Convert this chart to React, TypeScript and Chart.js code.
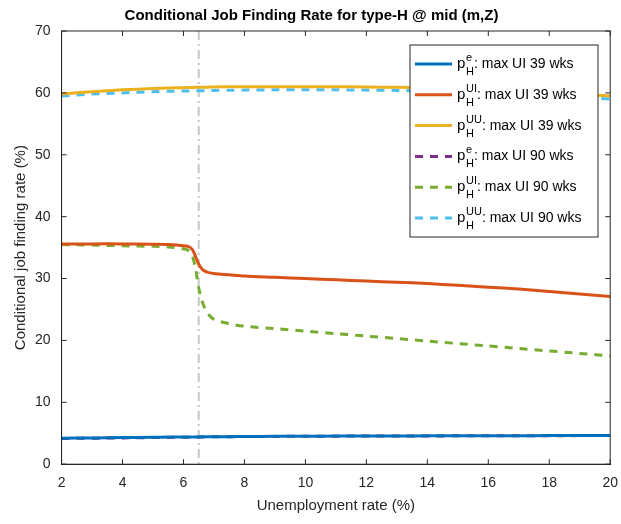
import { useEffect, useRef } from 'react'
import { Chart, registerables } from 'chart.js'

Chart.register(...registerables)

const xs = [2, 3, 4, 5, 5.5, 6, 6.2, 6.3, 6.4, 6.5, 6.6, 6.7, 6.8, 7, 7.5, 8, 9, 10, 11, 12, 13, 14, 15, 16, 17, 18, 19, 20]
const pe39 = [4.2, 4.25, 4.3, 4.35, 4.38, 4.4, 4.4, 4.4, 4.41, 4.41, 4.42, 4.42, 4.42, 4.43, 4.45, 4.47, 4.5, 4.52, 4.54, 4.56, 4.57, 4.58, 4.59, 4.6, 4.61, 4.62, 4.63, 4.64]
const pe90 = [4.15, 4.2, 4.25, 4.3, 4.33, 4.35, 4.36, 4.37, 4.38, 4.39, 4.4, 4.4, 4.41, 4.42, 4.44, 4.46, 4.49, 4.51, 4.53, 4.55, 4.56, 4.57, 4.58, 4.59, 4.6, 4.61, 4.62, 4.63]
const ui39 = [35.6, 35.6, 35.6, 35.55, 35.5, 35.3, 35.1, 34.6, 33.5, 32.3, 31.6, 31.2, 31.0, 30.8, 30.6, 30.4, 30.2, 30.0, 29.8, 29.6, 29.4, 29.2, 28.9, 28.6, 28.3, 27.9, 27.5, 27.1]
const ui90 = [35.5, 35.4, 35.3, 35.2, 35.1, 34.8, 34.4, 33.5, 31.5, 28.5, 26.5, 25.2, 24.3, 23.4, 22.7, 22.3, 21.9, 21.5, 21.1, 20.7, 20.3, 19.9, 19.5, 19.1, 18.7, 18.3, 17.9, 17.5]
const uu39 = [59.8, 60.2, 60.5, 60.7, 60.8, 60.85, 60.87, 60.88, 60.9, 60.9, 60.9, 60.9, 60.92, 60.95, 61.0, 61.0, 61.0, 61.0, 61.0, 60.95, 60.9, 60.8, 60.7, 60.5, 60.3, 60.1, 59.8, 59.5]
const uu90 = [59.5, 59.8, 60.0, 60.2, 60.25, 60.3, 60.32, 60.33, 60.34, 60.35, 60.35, 60.36, 60.37, 60.4, 60.42, 60.45, 60.5, 60.5, 60.5, 60.45, 60.4, 60.3, 60.2, 60.0, 59.8, 59.6, 59.3, 59.0]
const xTicks = [2, 4, 6, 8, 10, 12, 14, 16, 18, 20]
const cutoff = 6.5

const legendItems = [
  { sup: 'e', label: ': max UI 39 wks', color: '#0072BD', dash: [] as number[] },
  { sup: 'UI', label: ': max UI 39 wks', color: '#D95319', dash: [] },
  { sup: 'UU', label: ': max UI 39 wks', color: '#EDB120', dash: [] },
  { sup: 'e', label: ': max UI 90 wks', color: '#7E2F8E', dash: [8, 7] },
  { sup: 'UI', label: ': max UI 90 wks', color: '#77AC30', dash: [8, 7] },
  { sup: 'UU', label: ': max UI 90 wks', color: '#4DBEEE', dash: [8, 7] },
]
const seriesVals = [pe39, ui39, uu39, pe90, ui90, uu90]

const font = 'Liberation Sans, Arial, sans-serif'

export default function App() {
  const chartRef = useRef<HTMLCanvasElement>(null)
  const chartInstance = useRef<Chart | null>(null)

  useEffect(() => {
    if (!chartRef.current) return
    const ctx = chartRef.current.getContext('2d')
    if (!ctx) return
    if (chartInstance.current) chartInstance.current.destroy()

    const extras = {
      id: 'extras',
      beforeDatasetsDraw(chart: Chart) {
        const c = chart.ctx
        const x = chart.scales.x.getPixelForValue(cutoff)
        const { top, bottom } = chart.chartArea
        c.save()
        c.strokeStyle = '#c8c8c8'
        c.lineWidth = 2
        c.setLineDash([9, 4, 2, 4])
        c.beginPath()
        c.moveTo(x, top)
        c.lineTo(x, bottom)
        c.stroke()
        c.restore()
      },
      afterDraw(chart: Chart) {
        const c = chart.ctx
        const { left, right, top, bottom } = chart.chartArea
        c.save()
        c.strokeStyle = '#262626'
        c.lineWidth = 1
        c.strokeRect(left, top, right - left, bottom - top)
        // inward ticks
        c.beginPath()
        xTicks.forEach(v => {
          const px = chart.scales.x.getPixelForValue(v)
          c.moveTo(px, bottom); c.lineTo(px, bottom - 5)
          c.moveTo(px, top); c.lineTo(px, top + 5)
        })
        for (let v = 0; v <= 70; v += 10) {
          const py = chart.scales.y.getPixelForValue(v)
          c.moveTo(left, py); c.lineTo(left + 5, py)
          c.moveTo(right, py); c.lineTo(right - 5, py)
        }
        c.stroke()
        // legend
        const bx = 410, by = 45, bw = 188, bh = 192
        c.fillStyle = '#fff'
        c.fillRect(bx, by, bw, bh)
        c.strokeRect(bx, by, bw, bh)
        legendItems.forEach((it, i) => {
          const y = 64 + i * 30.8
          c.strokeStyle = it.color
          c.lineWidth = 3
          c.setLineDash(it.dash)
          c.beginPath()
          c.moveTo(415, y)
          c.lineTo(452, y)
          c.stroke()
          c.setLineDash([])
          c.fillStyle = '#000'
          c.textBaseline = 'alphabetic'
          c.font = `15px ${font}`
          c.fillText('p', 457, y + 4)
          c.font = `11px ${font}`
          c.fillText(it.sup, 466, y - 3)
          c.fillText('H', 466, y + 11)
          const sw = c.measureText(it.sup).width
          const hw = c.measureText('H').width
          c.font = `14px ${font}`
          c.fillText(it.label, 466 + Math.max(sw, hw), y + 4)
        })
        c.restore()
      },
    }

    chartInstance.current = new Chart(ctx, {
      type: 'line',
      data: {
        datasets: legendItems.map((it, i) => ({
          label: it.sup + it.label,
          data: xs.map((x, j) => ({ x, y: seriesVals[i][j] })),
          borderColor: it.color,
          borderDash: it.dash,
          borderWidth: 3,
          pointRadius: 0,
          tension: 0.3,
          fill: false,
        })),
      },
      options: {
        animation: false,
        responsive: false,
        layout: { padding: { right: 8, left: 10, bottom: 7, top: 3 } },
        plugins: {
          legend: { display: false },
          tooltip: { enabled: false },
          title: {
            display: true,
            text: 'Conditional Job Finding Rate for type-H @ mid (m,Z)',
            color: '#000',
            font: { family: font, size: 15, weight: 'bold' },
            padding: { top: 4, bottom: 6 },
          },
        },
        scales: {
          x: {
            type: 'linear',
            min: 2,
            max: 20,
            afterBuildTicks: (s: any) => { s.ticks = xTicks.map(v => ({ value: v })) },
            grid: { display: false },
            border: { color: '#262626' },
            ticks: { color: '#262626', font: { family: font, size: 14 } },
            title: { display: true, text: 'Unemployment rate (%)', color: '#262626', font: { family: font, size: 15 }, padding: 2 },
          },
          y: {
            min: 0,
            max: 70,
            grid: { display: false },
            border: { color: '#262626' },
            ticks: { stepSize: 10, color: '#262626', font: { family: font, size: 14 } },
            title: { display: true, text: 'Conditional job finding rate (%)', color: '#262626', font: { family: font, size: 15 }, padding: 2 },
          },
        },
      },
      plugins: [extras],
    } as any)

    return () => {
      if (chartInstance.current) chartInstance.current.destroy()
      chartInstance.current = null
    }
  }, [])

  return (
    <div style={{ position: 'absolute', left: 0, top: 0, width: 621, height: 524, background: '#fff' }}>
      <canvas ref={chartRef} width={621} height={524}></canvas>
    </div>
  )
}
